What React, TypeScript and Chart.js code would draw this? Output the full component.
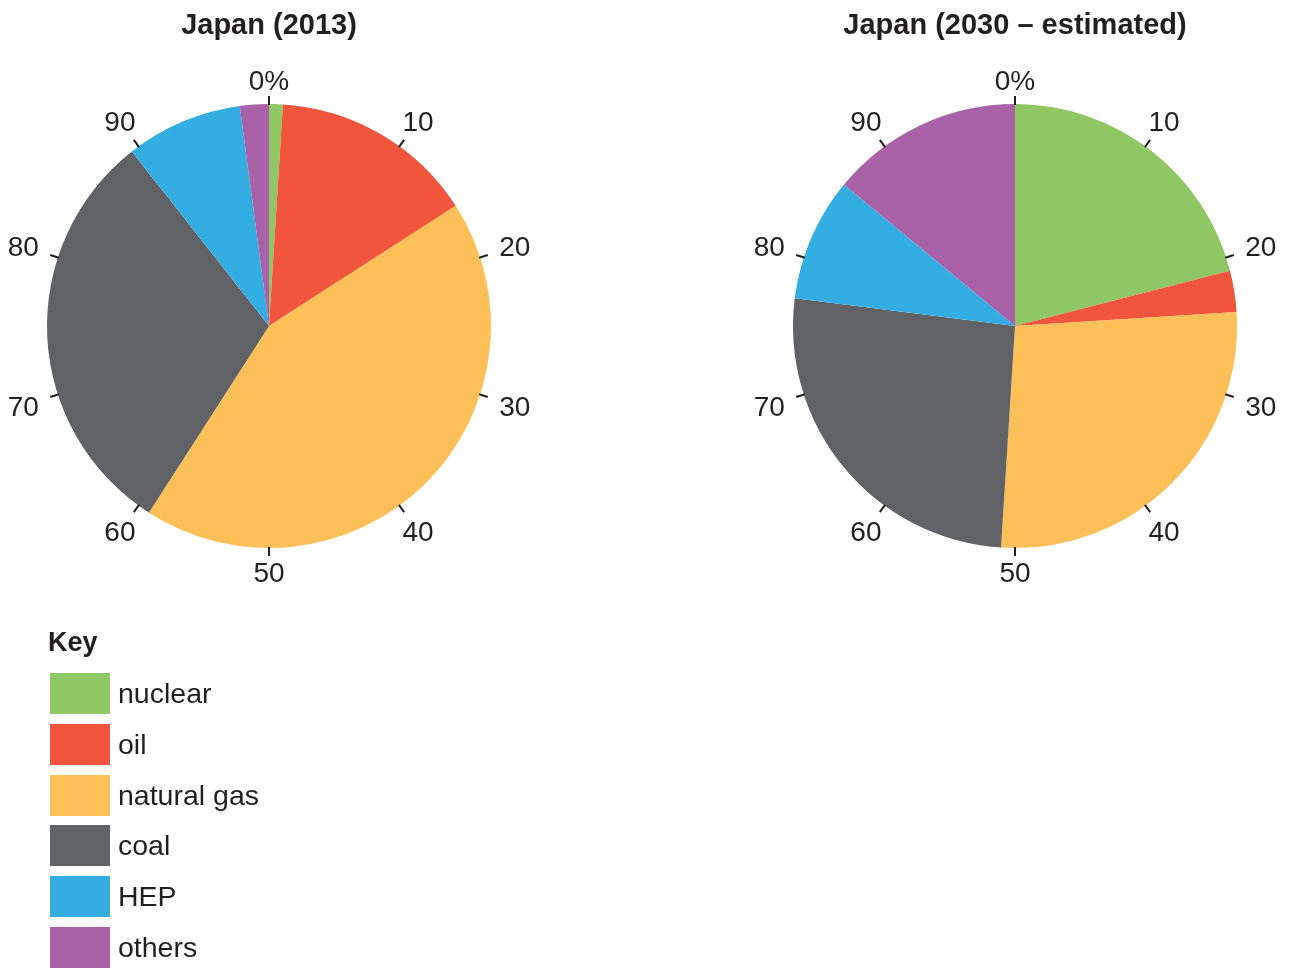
import React, { useEffect, useRef } from "react";
import { Chart, registerables } from "chart.js";

Chart.register(...registerables);

const categories = ["nuclear", "oil", "natural gas", "coal", "HEP", "others"];
const sliceColors = ["#8ec763", "#f1553b", "#fdbf57", "#616266", "#34ade3", "#a961a7"];
const values2013 = [1.0, 14.9, 43.2, 30.3, 8.5, 2.1];
const values2030 = [21, 3, 27, 26, 9, 14];
const tickLabels = ["0%", "10", "20", "30", "40", "50", "60", "70", "80", "90"];
const chartTitles = ["Japan (2013)", "Japan (2030 – estimated)"];
const legendTitle = "Key";

const FONT = "'Liberation Sans', Arial, Helvetica, sans-serif";
const INK = "#231f20";

const ringPlugin = {
  id: "ring",
  afterDatasetsDraw(chart: any, _args: any, opts: any) {
    const arc = chart.getDatasetMeta(0).data[0];
    if (!arc) return;
    const { x, y, outerRadius } = arc.getProps(["x", "y", "outerRadius"], true);
    const ctx = chart.ctx as CanvasRenderingContext2D;
    ctx.save();
    ctx.strokeStyle = INK;
    ctx.fillStyle = INK;
    ctx.lineWidth = 2;
    ctx.font = `28px ${FONT}`;
    ctx.textAlign = "center";
    ctx.textBaseline = "middle";
    tickLabels.forEach((lab, i) => {
      const a = (i / tickLabels.length) * Math.PI * 2;
      const s = Math.sin(a);
      const c = Math.cos(a);
      ctx.beginPath();
      ctx.moveTo(x + (outerRadius - 1) * s, y - (outerRadius - 1) * c);
      ctx.lineTo(x + (outerRadius + 8) * s, y - (outerRadius + 8) * c);
      ctx.stroke();
      const R = outerRadius + 24 + 13 * Math.abs(s);
      ctx.fillText(lab, x + R * s, y - R * c + 2);
    });
    ctx.font = `bold 29px ${FONT}`;
    ctx.fillText(opts.title, x, y - 300);
    ctx.restore();
  },
};

function PieChart({ values, title, left }: { values: number[]; title: string; left: number }) {
  const ref = useRef<HTMLCanvasElement | null>(null);
  useEffect(() => {
    if (!ref.current) return;
    const chart = new Chart(ref.current, {
      type: "pie",
      data: {
        labels: categories,
        datasets: [
          {
            data: values,
            backgroundColor: sliceColors,
            borderWidth: 0,
          },
        ],
      },
      options: {
        responsive: false,
        animation: false,
        layout: { padding: { left: 47, right: 47, top: 104, bottom: 104 } },
        plugins: {
          legend: { display: false },
          tooltip: { enabled: false },
          ring: { title },
        } as any,
      },
      plugins: [ringPlugin],
    });
    return () => chart.destroy();
  }, [values, title]);
  return (
    <canvas
      ref={ref}
      width={538}
      height={652}
      style={{ position: "absolute", left, top: 0, width: 538, height: 652 }}
    />
  );
}

export default function App() {
  return (
    <div
      style={{
        position: "absolute",
        left: 0,
        top: 0,
        width: 1291,
        height: 969,
        background: "#ffffff",
        fontFamily: FONT,
        color: INK,
        overflow: "hidden",
      }}
    >
      <PieChart values={values2013} title={chartTitles[0]} left={0} />
      <PieChart values={values2030} title={chartTitles[1]} left={746} />
      <div
        style={{
          position: "absolute",
          left: 48,
          top: 629,
          fontSize: 27,
          lineHeight: "27px",
          fontWeight: "bold",
        }}
      >
        {legendTitle}
      </div>
      {categories.map((cat, i) => (
        <div
          key={cat}
          style={{
            position: "absolute",
            left: 50,
            top: 673 + i * 50.8,
            height: 41,
            display: "flex",
            alignItems: "center",
          }}
        >
          <div style={{ width: 60, height: 41, background: sliceColors[i] }} />
          <div style={{ marginLeft: 8, fontSize: 28.5, lineHeight: "41px", whiteSpace: "nowrap" }}>{cat}</div>
        </div>
      ))}
    </div>
  );
}
